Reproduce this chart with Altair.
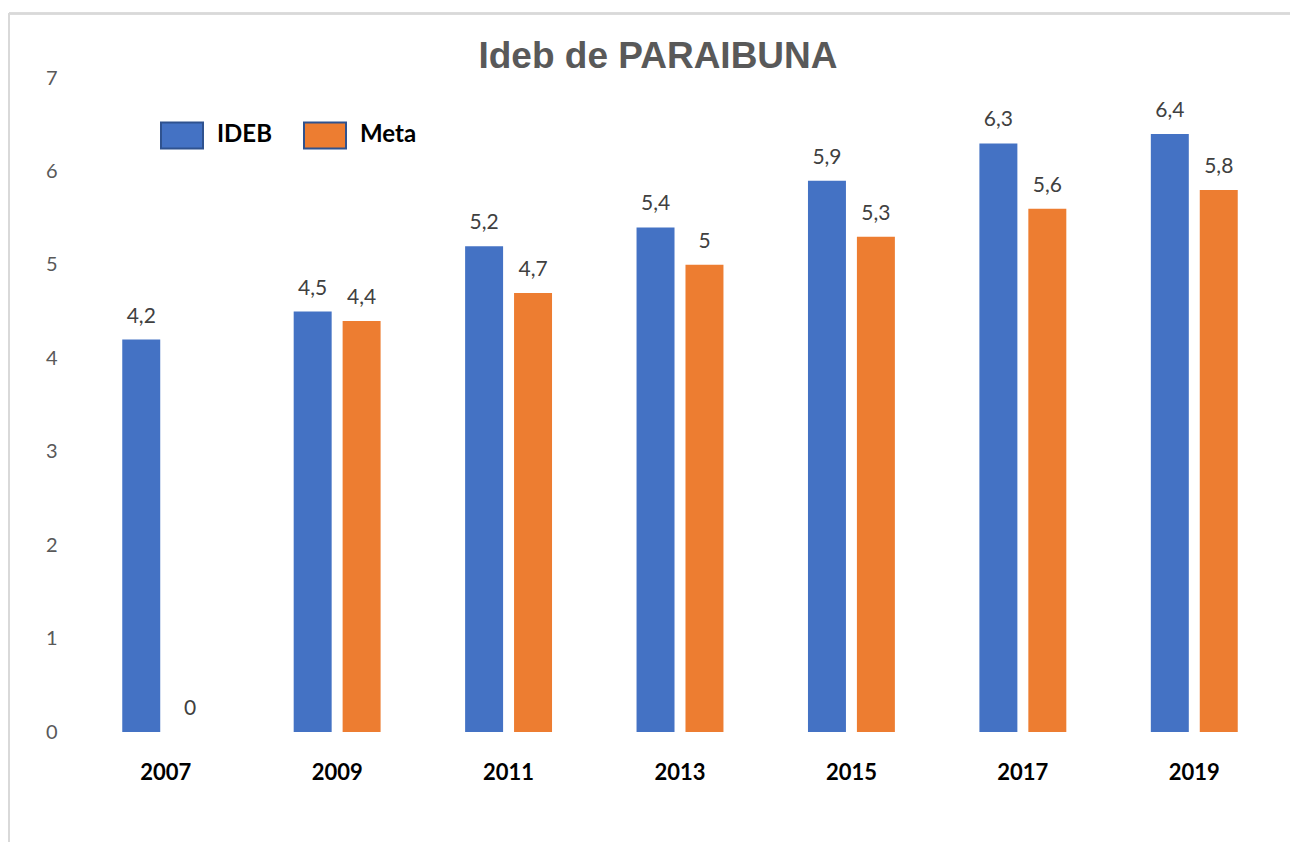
import altair as alt
import pandas as pd

anos = ["2007", "2009", "2011", "2013", "2015", "2017", "2019"]
ideb = [4.2, 4.5, 5.2, 5.4, 5.9, 6.3, 6.4]
meta = [0, 4.4, 4.7, 5.0, 5.3, 5.6, 5.8]
series = ["IDEB", "Meta"]
cores = ["#4472C4", "#ED7D31"]
y_ticks = [0, 1, 2, 3, 4, 5, 6, 7]


def rotulo(v):
    return f"{v:g}".replace(".", ",")


rows = []
for i, a in enumerate(anos):
    rows.append({"ano": a, "serie": "IDEB", "valor": ideb[i], "rotulo": rotulo(ideb[i])})
    rows.append({"ano": a, "serie": "Meta", "valor": meta[i], "rotulo": rotulo(meta[i])})
df = pd.DataFrame(rows)

W, H = 1200, 654

base = alt.Chart(df).encode(
    x=alt.X(
        "ano:N",
        sort=anos,
        scale=alt.Scale(paddingInner=0.493, paddingOuter=0.2465),
        axis=alt.Axis(
            title=None, ticks=False, tickSize=0, domain=False, labelAngle=0,
            labelFont="Lato", labelFontSize=22, labelFontWeight="bold",
            labelColor="#000000", labelPadding=47, labelBaseline="alphabetic",
        ),
    ),
    xOffset=alt.XOffset(
        "serie:N", sort=series,
        scale=alt.Scale(paddingInner=0.224, paddingOuter=0),
    ),
)

bars = base.mark_bar().encode(
    y=alt.Y(
        "valor:Q",
        scale=alt.Scale(domain=[0, 7], nice=False),
        axis=alt.Axis(
            title=None, values=y_ticks, format="d", ticks=False, tickSize=0,
            domain=False, grid=False, labelFont="Lato", labelFontSize=20,
            labelColor="#595959", labelPadding=23,
        ),
    ),
    color=alt.Color(
        "serie:N",
        scale=alt.Scale(domain=series, range=cores),
        legend=alt.Legend(
            title=None, orient="none", direction="horizontal",
            legendX=80, legendY=35, padding=0,
            symbolType="M-1,-0.62H1V0.62H-1Z", symbolSize=1764,
            symbolStrokeColor="#2F528F", symbolStrokeWidth=2, symbolOpacity=1,
            labelFont="Lato", labelFontSize=24, labelFontWeight="bold",
            labelColor="#000000", labelOffset=13, columnPadding=28,
        ),
    ),
)

text = base.mark_text(
    dy=-17, baseline="alphabetic", font="Lato", fontSize=21, color="#404040"
).encode(
    y=alt.Y("valor:Q"),
    text="rotulo:N",
)

frame_top = alt.Chart(df).mark_rule(color="#D9D9D9", strokeWidth=1.5).encode(
    x=alt.value(-71), x2=alt.value(1300), y=alt.value(-64.5)
)
frame_left = alt.Chart(df).mark_rule(color="#D9D9D9", strokeWidth=1.5).encode(
    x=alt.value(-71), y=alt.value(-64.5), y2=alt.value(900)
)

chart = alt.layer(frame_top, frame_left, bars, text).properties(
    width=W,
    height=H,
    autosize=alt.AutoSizeParams(type="none"),
    padding={"left": 72, "top": 70, "right": 10, "bottom": 110},
    title=alt.TitleParams(
        "Ideb de PARAIBUNA", font="Liberation Sans", fontSize=37,
        fontWeight="bold", color="#595959", anchor="middle", dx=-22,
        baseline="alphabetic", offset=-92,
    ),
).configure(background="white", view=alt.ViewConfig(stroke=None))

chart.save("out.html", embed_options={"renderer": "svg", "actions": False})
